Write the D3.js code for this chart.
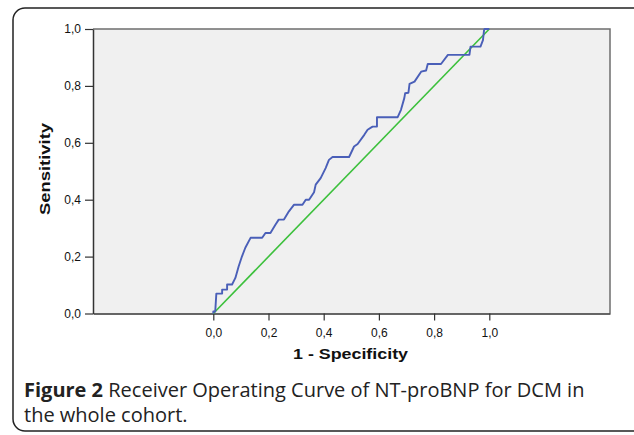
<!DOCTYPE html>
<html><head><meta charset="utf-8">
<script src="https://cdn.jsdelivr.net/npm/d3@7"></script>
<style>body{margin:0;background:#fff;}svg{display:block;}</style>
</head><body>
<svg id="c" width="634" height="435"></svg>
<script>
// ROC curve of NT-proBNP (1 - specificity, sensitivity)
const rocFPR = [0,0,0.007,0.011,0.032,0.032,0.050,0.050,0.068,0.080,0.092,0.104,0.116,0.135,0.177,0.189,0.207,0.225,0.237,0.256,0.274,0.292,0.323,0.335,0.347,0.365,0.371,0.389,0.407,0.419,0.432,0.492,0.510,0.523,0.547,0.559,0.577,0.593,0.593,0.668,0.680,0.692,0.695,0.707,0.711,0.729,0.753,0.771,0.777,0.825,0.850,0.928,0.932,0.968,0.977,0.981,0.983,1.0];
const rocTPR = [0,0.007,0.007,0.070,0.070,0.084,0.084,0.102,0.102,0.125,0.166,0.201,0.231,0.266,0.266,0.283,0.283,0.312,0.330,0.330,0.359,0.382,0.382,0.400,0.400,0.426,0.453,0.476,0.511,0.540,0.550,0.550,0.587,0.596,0.628,0.646,0.657,0.657,0.690,0.690,0.716,0.757,0.774,0.776,0.807,0.815,0.850,0.854,0.877,0.877,0.909,0.909,0.938,0.938,0.961,0.996,1.0,1.0];
const refFPR = [0, 1];
const refTPR = [0, 1];
const xTicks = [0, 0.2, 0.4, 0.6, 0.8, 1.0];
const yTicks = [0, 0.2, 0.4, 0.6, 0.8, 1.0];
const xLabel = "1 - Specificity";
const yLabel = "Sensitivity";
const captionBold = "Figure 2";
const captionLine1 = " Receiver Operating Curve of NT-proBNP for DCM in";
const captionLine2 = "the whole cohort.";

(function () {
const svg = d3.select("#c");
const fmt = d => d3.format(".1f")(d).replace(".", ",");

// outer rounded frame
svg.append("rect").attr("x", 13).attr("y", 8).attr("width", 640).attr("height", 423)
  .attr("rx", 12).attr("fill", "none").attr("stroke", "#222").attr("stroke-width", 1.5);

const pL = 93, pR = 610, pT = 29, pB = 313.5;
// x scale: 0 at 213, 1 at 489
const x0 = 213.3, x1 = 489.3;
const x = d3.scaleLinear().domain([(pL - x0) / (x1 - x0), (pR - x0) / (x1 - x0)]).range([pL, pR]);
const y = d3.scaleLinear().domain([0, 1]).range([pB, pT]);

// plot background
svg.append("rect").attr("x", pL).attr("y", pT).attr("width", pR - pL).attr("height", pB - pT)
  .attr("fill", "#f0f0f0");
// top & right frame
svg.append("path").attr("d", `M${pL},${pT}H${pR}V${pB}`).attr("fill", "none")
  .attr("stroke", "#6e6e6e").attr("stroke-width", 1.5);

// axes
const yAxis = svg.append("g").attr("transform", `translate(${pL},0)`)
  .call(d3.axisLeft(y).tickValues(yTicks).tickFormat(fmt).tickSize(8).tickSizeOuter(0));
const xAxis = svg.append("g").attr("transform", `translate(0,${pB})`)
  .call(d3.axisBottom(x).tickValues(xTicks).tickFormat(fmt).tickSize(7).tickSizeOuter(0));
[xAxis, yAxis].forEach(g => {
  g.select(".domain").attr("stroke", "#333").attr("stroke-width", 1.5);
  g.selectAll(".tick line").attr("stroke", "#333").attr("stroke-width", 1.2);
  g.selectAll(".tick text").attr("font-family", "Liberation Sans, Arial, sans-serif")
    .attr("font-size", 12).attr("fill", "#111");
});
yAxis.selectAll(".tick text").attr("x", -12);
xAxis.selectAll(".tick text").attr("y", 15);

const line = d3.line().x(d => x(d[0])).y(d => y(d[1]));
// reference diagonal
svg.append("path").datum(d3.zip(refFPR, refTPR)).attr("d", line)
  .attr("fill", "none").attr("stroke", "#3cc03c").attr("stroke-width", 1.6);
// ROC curve
svg.append("path").datum(d3.zip(rocFPR, rocTPR)).attr("d", line)
  .attr("fill", "none").attr("stroke", "#4a5fb8").attr("stroke-width", 1.9).attr("stroke-linejoin", "round");

// axis titles
svg.append("text").attr("x", 293).attr("y", 359)
  .attr("font-family", "Liberation Sans, Arial, sans-serif").attr("font-weight", "bold")
  .attr("font-size", 14).attr("fill", "#111")
  .attr("textLength", 115).attr("lengthAdjust", "spacingAndGlyphs").text(xLabel);
svg.append("text").attr("transform", "translate(50,215) rotate(-90)")
  .attr("font-family", "Liberation Sans, Arial, sans-serif").attr("font-weight", "bold")
  .attr("font-size", 14).attr("fill", "#111")
  .attr("textLength", 92).attr("lengthAdjust", "spacingAndGlyphs").text(yLabel);

// caption
const cap = svg.append("text").attr("x", 24).attr("y", 397)
  .attr("font-family", "Open Sans, Noto Sans, sans-serif").attr("font-size", 20).attr("fill", "#222");
cap.append("tspan").attr("font-weight", "bold").text(captionBold);
cap.append("tspan").text(captionLine1);
svg.append("text").attr("x", 24).attr("y", 422)
  .attr("font-family", "Open Sans, Noto Sans, sans-serif").attr("font-size", 20).attr("fill", "#222")
  .text(captionLine2);
})();
</script>
</body></html>
